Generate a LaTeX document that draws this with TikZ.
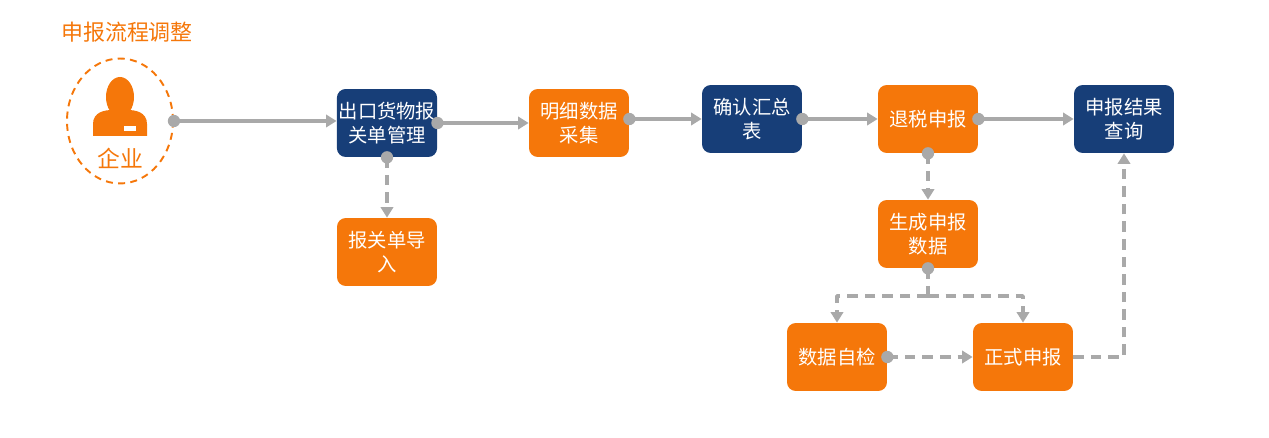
\documentclass[tikz,border=0pt]{standalone}
\usepackage{fontspec}
\setmainfont{Noto Sans CJK SC}
\usetikzlibrary{arrows.meta,shapes.geometric}
\definecolor{bgorange}{HTML}{F5770A}
\definecolor{bgnavy}{HTML}{173E78}
\definecolor{linegray}{HTML}{A9A9A9}
\tikzset{
  box/.style={rounded corners=5pt, minimum width=2cm, minimum height=1.36cm, text=white,
    font=\fontsize{11}{14}\selectfont, align=center, inner sep=1pt},
  orangebox/.style={box, fill=bgorange},
  navybox/.style={box, fill=bgnavy},
  link/.style={draw=linegray, line width=2.1pt, -{Triangle[length=6pt,width=7pt]}},
  dlink/.style={link, dash pattern=on 6pt off 4pt},
  dot/.style={circle, fill=linegray, inner sep=0pt, minimum size=7pt}
}
\begin{document}
\begin{tikzpicture}[line cap=butt, line join=round, x=0.02cm, y=-0.02cm]
  \useasboundingbox (0,0) rectangle (1269,438);

  % title and company
  \node[text=bgorange, font=\fontsize{12.5}{14}\selectfont] (title) at (127,32) {申报流程调整};
  \node[ellipse, draw=bgorange, dash pattern=on 4pt off 3pt, line width=1.1pt, minimum width=2.12cm, minimum height=2.5cm] (firm) at (120,121) {};
  \fill[bgorange] (120,97) ellipse (14 and 20);
  \fill[bgorange] (93,136) -- (93,124) .. controls (93,112) and (105,110) .. (112,110)
     -- (128,110) .. controls (135,110) and (147,112) .. (147,124) -- (147,136) -- cycle;
  \fill[white] (124,126) rectangle (136,131);
  \node[text=bgorange, font=\fontsize{13}{15}\selectfont] (firmlabel) at (120,158) {企业};

  % steps
  \node[navybox] (manage) at (387,123) {出口货物报\\关单管理};
  \node[orangebox] (import) at (387,252) {报关单导\\入};
  \node[orangebox] (collect) at (579,123) {明细数据\\采集};
  \node[navybox] (confirm) at (752,119) {确认汇总\\表};
  \node[orangebox] (declare) at (928,119) {退税申报};
  \node[navybox] (result) at (1124,119) {申报结果\\查询};
  \node[orangebox] (gen) at (928,234) {生成申报\\数据};
  \node[orangebox] (check) at (837,357) {数据自检};
  \node[orangebox] (formal) at (1023,357) {正式申报};

  \coordinate (split) at (928,296);

  % connectors
  \draw[link] (firm.east) -- (manage.west |- firm.east);
  \draw[link] (manage.east) -- (collect.west);
  \draw[link] (collect.east |- confirm.west) -- (confirm.west);
  \draw[link] (confirm.east) -- (declare.west);
  \draw[link] (declare.east) -- (result.west);
  \draw[dlink] (manage.south) -- (import.north);
  \draw[dlink] (declare.south) -- (gen.north);
  \draw[dlink, -] (gen.south) -- (split);
  \draw[dlink] (split) -| (check.north);
  \draw[dlink] (split) -| (formal.north);
  \draw[dlink] (check.east) -- (formal.west);
  \draw[dlink] (formal.east) -| (result.south);

  % start dots
  \foreach \p in {firm.east, manage.east, collect.east |- confirm.west, confirm.east, declare.east,
    manage.south, declare.south, gen.south, check.east}
    \node[dot] at (\p) {};
\end{tikzpicture}
\end{document}
